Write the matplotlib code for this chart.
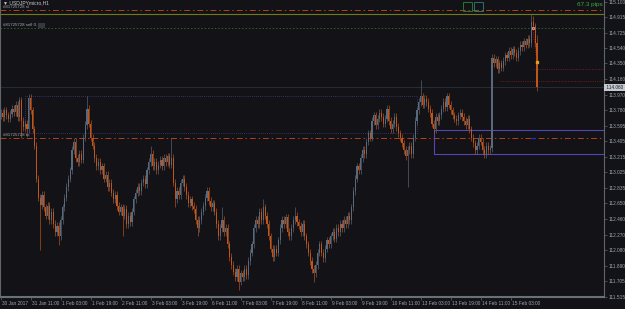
import numpy as np
import matplotlib
matplotlib.use("Agg")
import matplotlib.pyplot as plt
import matplotlib.transforms as mtransforms
from matplotlib.patches import Rectangle

# USDJPYmicro H1, 30 Jan 2017 19:00 .. 15 Feb 2017 17:00 (hourly closes)
first_open = 113.72
closes = [
    113.75, 113.70, 113.78, 113.72, 113.68, 113.74, 113.80, 113.76, 113.85, 113.70,
    113.90, 113.65, 113.58, 113.62, 113.55, 113.93, 113.78, 113.55, 113.35, 112.95,
    112.72, 112.63, 112.75, 112.60, 112.50, 112.62, 112.45, 112.55, 112.40, 112.30,
    112.38, 112.25, 112.45, 112.60, 112.72, 112.85, 112.95, 113.05, 113.30, 113.40,
    113.20, 113.15, 113.25, 113.18, 113.45, 113.60, 113.80, 113.62, 113.45, 113.35,
    113.20, 113.10, 113.15, 113.05, 113.10, 112.95, 113.00, 112.85, 112.90, 112.78,
    112.70, 112.75, 112.62, 112.55, 112.60, 112.50, 112.58, 112.40, 112.50, 112.42,
    112.55, 112.70, 112.78, 112.85, 112.80, 112.90, 112.95, 112.88, 113.05, 113.15,
    113.25, 113.10, 113.15, 113.05, 113.12, 113.18, 113.10, 113.20, 113.15, 113.22,
    113.12, 113.20, 112.90, 112.70, 112.80, 112.75, 112.90, 112.95, 112.85, 112.75,
    112.65, 112.70, 112.62, 112.58, 112.45, 112.35, 112.45, 112.55, 112.62, 112.72,
    112.80, 112.68, 112.60, 112.65, 112.55, 112.40, 112.25, 112.35, 112.45, 112.30,
    112.35, 112.15, 112.00, 111.90, 111.82, 111.75, 111.85, 111.70, 111.80, 111.75,
    111.85, 111.78, 111.95, 112.05, 112.15, 112.35, 112.45, 112.40, 112.55, 112.45,
    112.60, 112.50, 112.40, 112.25, 112.10, 112.00, 112.10, 112.05, 112.20, 112.35,
    112.45, 112.40, 112.48, 112.30, 112.25, 112.35, 112.45, 112.50, 112.42, 112.38,
    112.30, 112.40, 112.25, 112.15, 112.05, 111.95, 111.85, 111.80, 111.90, 112.05,
    112.15, 112.05, 111.98, 112.10, 112.20, 112.15, 112.25, 112.30, 112.22, 112.35,
    112.30, 112.40, 112.35, 112.45, 112.40, 112.50, 112.45, 112.60, 112.80, 112.95,
    113.10, 113.05, 113.20, 113.30, 113.25, 113.40, 113.50, 113.45, 113.65, 113.72,
    113.60, 113.68, 113.75, 113.70, 113.62, 113.68, 113.80, 113.65, 113.55, 113.62,
    113.70, 113.58, 113.50, 113.45, 113.38, 113.30, 113.22, 113.30, 113.35, 113.25,
    113.45, 113.65, 113.78, 113.88, 113.95, 113.85, 113.92, 113.88, 113.80, 113.75,
    113.62, 113.55, 113.70, 113.65, 113.72, 113.80, 113.88, 113.82, 113.95, 113.85,
    113.78, 113.72, 113.68, 113.65, 113.72, 113.75, 113.70, 113.65, 113.60, 113.68,
    113.55, 113.45, 113.38, 113.30, 113.35, 113.45, 113.40, 113.30, 113.25, 113.35,
    113.30, 113.32, 114.42, 114.35, 114.40, 114.28, 114.35, 114.30, 114.38, 114.45,
    114.42, 114.50, 114.45, 114.52, 114.48, 114.42, 114.50, 114.58, 114.55, 114.62,
    114.58, 114.65, 114.60, 114.85, 114.80, 114.60, 114.06,
]

# bars with a long shadow: index, high, low (None = ordinary short shadow)
spike_idx = [11, 21, 31, 46, 65, 80, 91, 93, 105, 118, 127, 140, 157, 167, 217, 224, 283, 284, 286]
spike_hi = [None, None, None, 113.95, None, 113.35, 113.45, None, None, 112.60, None, 112.70,
            112.60, None, None, 114.15, 114.95, 114.93, 114.70]
spike_lo = [113.45, 112.08, 112.14, None, 112.25, None, None, 112.60, 112.25, None, 111.60,
            None, None, 111.70, 112.85, None, None, None, 114.02]
shadow = 0.045

# x-axis labels, one every 16 bars
time_labels = ["30 Jan 2017", "31 Jan 11:00", "1 Feb 03:00", "1 Feb 19:00", "2 Feb 11:00",
               "3 Feb 03:00", "3 Feb 19:00", "6 Feb 11:00", "7 Feb 03:00", "7 Feb 19:00",
               "8 Feb 11:00", "9 Feb 03:00", "9 Feb 19:00", "10 Feb 11:00", "13 Feb 03:00",
               "13 Feb 19:00", "14 Feb 11:00", "15 Feb 03:00"]
price_ticks = [115.100, 114.915, 114.725, 114.540, 114.350, 114.160, 113.970, 113.780,
               113.595, 113.405, 113.215, 113.025, 112.835, 112.650, 112.460, 112.270,
               112.080, 111.890, 111.705, 111.515]

# order levels / objects
sl_level = 115.00
day_high = 114.95
sell_level = 114.78
tp_level = 113.444
bid = 114.06
alert_levels = [114.28, 114.137]
alert_start = [284.0, 266.3]
box_dotted = (13.0, 222.0, 113.505, 113.954)
box_solid = (231.1, 113.250, 113.541)

BG = "#131317"
UP = "#5a6a7c"
DN = "#bf561b"
AXC = "#5f656d"
TXT = "#9ea6b0"

closes = np.array(closes)
opens = np.r_[first_open, closes[:-1]]
n = len(closes)
idx = np.arange(n)
highs = np.maximum(opens, closes) + shadow
lows = np.minimum(opens, closes) - shadow
for i, h, l in zip(spike_idx, spike_hi, spike_lo):
    if h is not None:
        highs[i] = h
    if l is not None:
        lows[i] = l

W, H = 625, 309
fig = plt.figure(figsize=(W / 100, H / 100), dpi=100, facecolor=BG)
ax = fig.add_axes([0, 12 / H, 604 / W, 297 / H], facecolor=BG)

def px(x, y):
    return x / W, 1 - y / H

up = closes >= opens
dn = ~up
for m, col in ((up, UP), (dn, DN)):
    ax.vlines(idx[m], lows[m], highs[m], color=col, lw=0.45, zorder=3)
    ax.bar(idx[m], np.maximum(np.abs(closes[m] - opens[m]), 0.01),
           bottom=np.minimum(opens[m], closes[m]), width=0.6, color=col, lw=0, zorder=3)

ax.set_xlim(-0.373, 321.75)
ax.set_ylim(111.512, 115.121)

# levels
ax.axhline(sl_level, color="#b8401a", lw=0.7, ls=(0, (6, 3, 1.5, 3)), zorder=2)
ax.axhline(day_high, color="#6d7c16", lw=0.8, zorder=2)
ax.axhline(sell_level, color="#1f6a22", lw=0.7, ls=(0, (1.5, 2)), zorder=2)
ax.axhline(tp_level, color="#b8401a", lw=0.7, ls=(0, (6, 3, 1.5, 3)), zorder=2)
ax.axhline(bid, color="#2b2f35", lw=0.6, zorder=1)
for lvl, x0 in zip(alert_levels, alert_start):
    ax.hlines(lvl, x0, 330, color="#7c1d1d", lw=0.6, ls=(0, (1.2, 1.5)), zorder=2)

x0, x1, y0, y1 = box_dotted
ax.add_patch(Rectangle((x0, y0), x1 - x0, y1 - y0, fill=False, ec="#3d3d7a", lw=0.6,
                       ls=(0, (1, 1.5)), zorder=2))
sx, sy0, sy1 = box_solid
ax.add_patch(Rectangle((sx, sy0), 200, sy1 - sy0, fill=False, ec="#5447b4", lw=0.8,
                       zorder=2, clip_on=True))

# trade markers
ax.plot([283.8, 286.0], [sell_level, 114.37], ls=":", color="#d42020", lw=0.6, zorder=4)
ax.plot(283.8, sell_level, marker="s", ms=2.0, color="#e02020", mec="#e8e8e8", mew=0.4, zorder=5)
ax.plot(286.0, 114.37, marker="s", ms=1.6, color="#e0a020", mec="#e0a020", zorder=5)
ax.plot(283.9, tp_level, marker="_", ms=2.5, color="#1030e0", mew=1.0, zorder=5)

# axes styling
ax.spines["top"].set_visible(False)
ax.spines["left"].set_color(AXC)
ax.spines["left"].set_linewidth(0.8)
ax.spines["right"].set_color(AXC)
ax.spines["right"].set_linewidth(0.8)
ax.spines["bottom"].set_color("#6a7078")
ax.spines["bottom"].set_linewidth(1.5)

ax.yaxis.tick_right()
ax.set_yticks(price_ticks)
ax.set_yticklabels([f"{p:.3f}" for p in price_ticks], family="Liberation Sans")
ax.tick_params(axis="y", length=2, width=0.5, color=AXC, labelsize=3.4,
               labelcolor=TXT, pad=1.5)
ax.set_xticks(np.arange(len(time_labels)) * 16)
ax.set_xticklabels(time_labels, ha="left", family="Liberation Sans")
ax.tick_params(axis="x", length=2, width=0.5, color=AXC, labelsize=3.4,
               labelcolor=TXT, pad=1.2)
off = mtransforms.ScaledTranslation(1.5 / 100, 0, fig.dpi_scale_trans)
for lab in ax.get_xticklabels():
    lab.set_transform(lab.get_transform() + off)

# current price box
tr = mtransforms.blended_transform_factory(ax.transAxes, ax.transData)
ax.text(1.0, bid, " 114.060 ", transform=tr + mtransforms.ScaledTranslation(1 / 100, 0, fig.dpi_scale_trans),
        ha="left", va="center", fontsize=3.4, family="Liberation Sans", color="#1a1c20",
        bbox=dict(boxstyle="square,pad=0.15", fc="#c4c9d0", ec="none"), zorder=6)

# chart labels
fig.text(*px(3, 2.8), "\u25bc USDJPYmicro,H1", fontsize=3.6, color="#c4c8d0",
         family=["Liberation Sans", "DejaVu Sans"], va="center", ha="left")
fig.text(*px(3, 7), "#81725728 sl", fontsize=3.2, color="#a0a6ae",
         family="Liberation Sans", va="center", ha="left")
fig.text(*px(3, 25.5), "#81725728 sell 0.", fontsize=3.2, color="#a0a6ae",
         family="Liberation Sans", va="center", ha="left")
fig.patches.append(Rectangle(px(38, 28), 7 / W, 5 / H, transform=fig.transFigure,
                             fc="#35383e", ec="none", figure=fig))
fig.text(*px(3, 135), "#81725728 tp", fontsize=3.2, color="#a0a6ae",
         family="Liberation Sans", va="center", ha="left")
fig.text(*px(603, 4.5), "67.3 pips", fontsize=4.6, color="#3aa83a",
         family="Liberation Sans", va="center", ha="right")
for xx, col in ((463, "#1f7a36"), (474, "#2a7070")):
    fig.patches.append(Rectangle(px(xx, 11), 9 / W, 9 / H, transform=fig.transFigure,
                                 fill=False, ec=col, lw=0.7, figure=fig))

fig.savefig("out.png", dpi=100, facecolor=BG)
